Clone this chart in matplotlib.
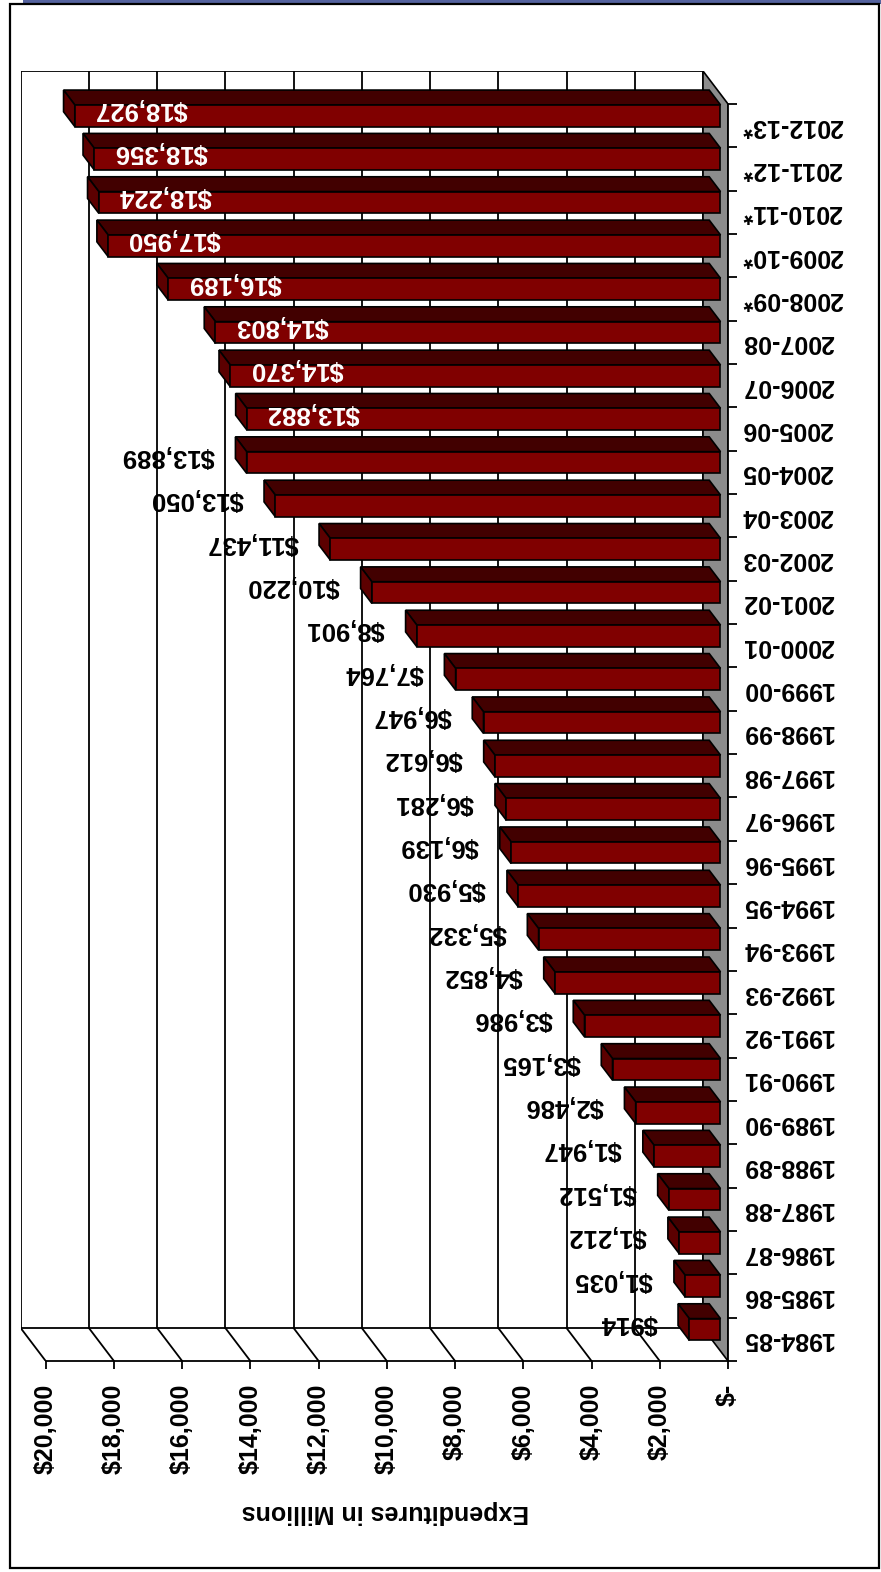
import numpy as np
import matplotlib
matplotlib.use("Agg")
import matplotlib.pyplot as plt
from matplotlib.patches import Polygon, Rectangle
from matplotlib.ticker import FuncFormatter

plt.rcParams['font.family'] = ['Liberation Sans', 'DejaVu Sans']
plt.rcParams['font.weight'] = 'bold'
plt.rcParams['axes.labelweight'] = 'bold'

years = ['1984-85', '1985-86', '1986-87', '1987-88', '1988-89', '1989-90',
         '1990-91', '1991-92', '1992-93', '1993-94', '1994-95', '1995-96',
         '1996-97', '1997-98', '1998-99', '1999-00', '2000-01', '2001-02',
         '2002-03', '2003-04', '2004-05', '2005-06', '2006-07', '2007-08',
         '2008-09*', '2009-10*', '2010-11*', '2011-12*', '2012-13*']
spending = [914, 1035, 1212, 1512, 1947, 2486, 3165, 3986, 4852, 5332,
            5930, 6139, 6281, 6612, 6947, 7764, 8901, 10220, 11437, 13050,
            13889, 13882, 14370, 14803, 16189, 17950, 18224, 18356, 18927]
# labels from this year on are written inside the bar in white
inside_from = '2005-06'
value_ticks = list(range(0, 20001, 2000))

W, H = 881, 1572
fig = plt.figure(figsize=(W / 100, H / 100), dpi=100)
fig.patch.set_facecolor('white')

# outer frame and the strip above it
fig.add_artist(Rectangle((23 / W, 1 - 3.5 / H), 1, 3.5 / H, transform=fig.transFigure,
                         facecolor='#55639f', edgecolor='none'))
fig.add_artist(Rectangle((10 / W, 1 - 1568 / H), 869 / W, 1564 / H,
                         transform=fig.transFigure, facecolor='none',
                         edgecolor='black', linewidth=1.6))

ax = fig.add_axes([20.7 / W, 1 - 1361 / H, (728 - 20.7) / W, (1361 - 71) / H])
ax.patch.set_visible(False)

n = len(years)
vmax = value_ticks[-1]
DX = 733      # depth of the box, in value units
DY = 0.76     # depth of the box, in category units
f1, f2 = 0.30, 0.75   # bar front / back depth
half = 0.25

ax.set_xlim(vmax + DX, 0)
ax.set_ylim(-0.5, n - 0.5 + DY)

ylo, yhi = -0.5, n - 0.5

# back wall
ax.add_patch(Polygon([(DX, ylo + DY), (vmax + DX, ylo + DY), (vmax + DX, yhi + DY), (DX, yhi + DY)],
                     closed=True, facecolor='white', edgecolor='black', lw=1.3, zorder=0))
for v in value_ticks[1:-1]:
    ax.plot([v + DX, v + DX], [ylo + DY, yhi + DY], color='black', lw=1.3, zorder=1)
# floor lines
for v in value_ticks[1:]:
    ax.plot([v, v + DX], [ylo, ylo + DY], color='black', lw=1.3, zorder=1)

# grey side wall at zero
ax.add_patch(Polygon([(0, ylo), (0, yhi), (DX, yhi + DY), (DX, ylo + DY)],
                     closed=True, facecolor='#8c8c8c', edgecolor='black', lw=1.2, zorder=2))

# bars
ax_, bx_ = f1 * DX, f2 * DX
ay_, by_ = f1 * DY, f2 * DY
inside_idx = years.index(inside_from)
for i, v in enumerate(spending):
    lo, hi = i - half, i + half
    front = [(ax_, lo + ay_), (v + ax_, lo + ay_), (v + ax_, hi + ay_), (ax_, hi + ay_)]
    top = [(ax_, hi + ay_), (v + ax_, hi + ay_), (v + bx_, hi + by_), (bx_, hi + by_)]
    end = [(v + ax_, lo + ay_), (v + ax_, hi + ay_), (v + bx_, hi + by_), (v + bx_, lo + by_)]
    for pts, col in ((top, '#420000'), (end, '#5c0000'), (front, '#800000')):
        ax.add_patch(Polygon(pts, closed=True, facecolor=col, edgecolor='black',
                             lw=1.2, joinstyle='miter', zorder=3))

    lab = '${:,}'.format(v)
    mid = (v + 0.5 * DX, i + 0.5 * DY)
    if i >= inside_idx:
        ax.annotate(lab, mid, xytext=(18, 0), textcoords='offset points',
                    ha='left', va='center', rotation=180, fontsize=18.5,
                    color='white', zorder=5)
    else:
        ax.annotate(lab, mid, xytext=(-19.5, 0), textcoords='offset points',
                    ha='right', va='center', rotation=180, fontsize=18.5,
                    color='black', zorder=5)

# axes
for s in ('top', 'left'):
    ax.spines[s].set_visible(False)
ax.spines['bottom'].set_bounds(0, vmax)
ax.spines['right'].set_bounds(ylo, yhi)
for s in ('bottom', 'right'):
    ax.spines[s].set_linewidth(1.3)
    ax.spines[s].set_zorder(4)

ax.yaxis.tick_right()
ax.set_yticks(range(n))
ax.set_yticklabels(years)
ax.set_yticks(np.arange(n + 1) - 0.5, minor=True)
ax.tick_params(axis='y', which='major', length=0, pad=10, labelsize=18, labelrotation=180)
ax.tick_params(axis='y', which='minor', length=6.5, width=1.3, direction='out')
for t in ax.get_yticklabels():
    t.set_va('center')

ax.set_xticks(value_ticks)
ax.xaxis.set_major_formatter(FuncFormatter(lambda v, p: '$-' if v == 0 else '${:,.0f}'.format(v)))
ax.tick_params(axis='x', length=5.8, width=1.3, pad=10.5, labelsize=18, labelrotation=90)

ax.set_xlabel('Expenditures in Millions', fontsize=18, fontweight='bold', rotation=180)
ax.xaxis.set_label_coords(0.515, -0.108)

fig.savefig('out.png', dpi=100)
